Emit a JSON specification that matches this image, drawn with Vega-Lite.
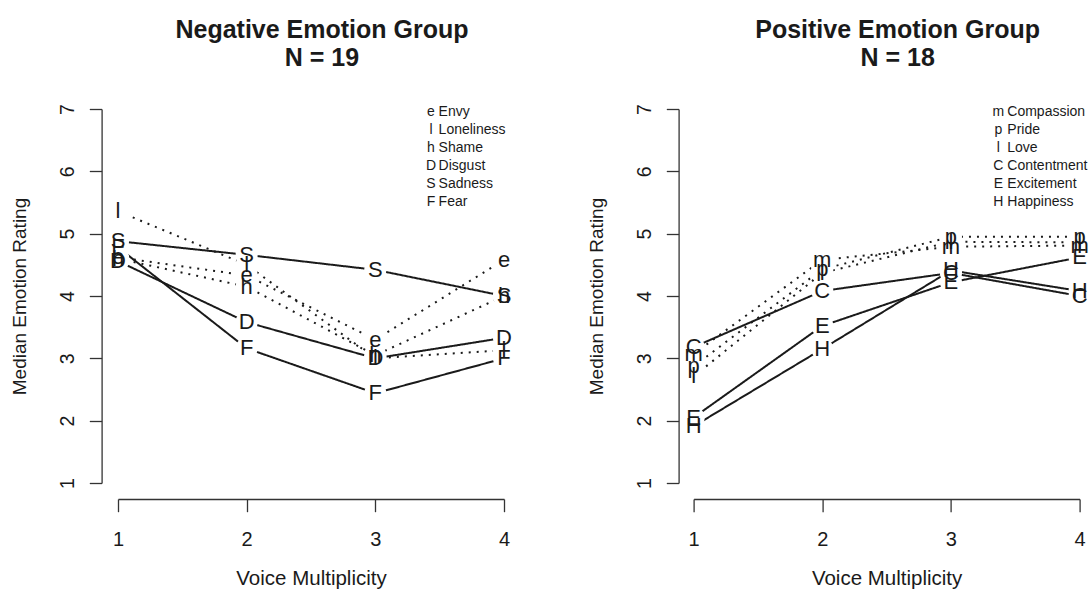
{
  "$schema": "https://vega.github.io/schema/vega-lite/v6.json",
  "background": "white",
  "padding": {"left": 10, "top": 18, "right": 0, "bottom": 0},
  "bounds": "flush",
  "spacing": 189.6,
  "config": {
    "font": "Liberation Sans",
    "view": {"stroke": null},
    "axis": {
      "grid": false,
      "domainColor": "#333333",
      "domainWidth": 1.3,
      "tickColor": "#333333",
      "tickWidth": 1.3,
      "labelColor": "#1a1a1a",
      "labelFlush": false,
      "labelOverlap": false,
      "labelBound": false,
      "titleFontWeight": "normal",
      "titleColor": "#1a1a1a"
    }
  },
  "datasets": {
    "negative": [
      {"emotion": "Envy", "letter": "e", "style": "dotted", "vm": 1, "rating": 4.62},
      {"emotion": "Envy", "letter": "e", "style": "dotted", "vm": 2, "rating": 4.33},
      {"emotion": "Envy", "letter": "e", "style": "dotted", "vm": 3, "rating": 3.30},
      {"emotion": "Envy", "letter": "e", "style": "dotted", "vm": 4, "rating": 4.58},
      {"emotion": "Loneliness", "letter": "l", "style": "dotted", "vm": 1, "rating": 5.36},
      {"emotion": "Loneliness", "letter": "l", "style": "dotted", "vm": 2, "rating": 4.50},
      {"emotion": "Loneliness", "letter": "l", "style": "dotted", "vm": 3, "rating": 3.00},
      {"emotion": "Loneliness", "letter": "l", "style": "dotted", "vm": 4, "rating": 3.13},
      {"emotion": "Shame", "letter": "h", "style": "dotted", "vm": 1, "rating": 4.60},
      {"emotion": "Shame", "letter": "h", "style": "dotted", "vm": 2, "rating": 4.15},
      {"emotion": "Shame", "letter": "h", "style": "dotted", "vm": 3, "rating": 3.05},
      {"emotion": "Shame", "letter": "h", "style": "dotted", "vm": 4, "rating": 4.00},
      {"emotion": "Disgust", "letter": "D", "style": "solid", "vm": 1, "rating": 4.56},
      {"emotion": "Disgust", "letter": "D", "style": "solid", "vm": 2, "rating": 3.58},
      {"emotion": "Disgust", "letter": "D", "style": "solid", "vm": 3, "rating": 3.00},
      {"emotion": "Disgust", "letter": "D", "style": "solid", "vm": 4, "rating": 3.33},
      {"emotion": "Sadness", "letter": "S", "style": "solid", "vm": 1, "rating": 4.88},
      {"emotion": "Sadness", "letter": "S", "style": "solid", "vm": 2, "rating": 4.66},
      {"emotion": "Sadness", "letter": "S", "style": "solid", "vm": 3, "rating": 4.42},
      {"emotion": "Sadness", "letter": "S", "style": "solid", "vm": 4, "rating": 4.00},
      {"emotion": "Fear", "letter": "F", "style": "solid", "vm": 1, "rating": 4.78},
      {"emotion": "Fear", "letter": "F", "style": "solid", "vm": 2, "rating": 3.16},
      {"emotion": "Fear", "letter": "F", "style": "solid", "vm": 3, "rating": 2.44},
      {"emotion": "Fear", "letter": "F", "style": "solid", "vm": 4, "rating": 3.00}
    ],
    "positive": [
      {"emotion": "Compassion", "letter": "m", "style": "dotted", "vm": 1, "rating": 3.07},
      {"emotion": "Compassion", "letter": "m", "style": "dotted", "vm": 2, "rating": 4.58},
      {"emotion": "Compassion", "letter": "m", "style": "dotted", "vm": 3, "rating": 4.79},
      {"emotion": "Compassion", "letter": "m", "style": "dotted", "vm": 4, "rating": 4.81},
      {"emotion": "Pride", "letter": "p", "style": "dotted", "vm": 1, "rating": 2.87},
      {"emotion": "Pride", "letter": "p", "style": "dotted", "vm": 2, "rating": 4.43},
      {"emotion": "Pride", "letter": "p", "style": "dotted", "vm": 3, "rating": 4.95},
      {"emotion": "Pride", "letter": "p", "style": "dotted", "vm": 4, "rating": 4.95},
      {"emotion": "Love", "letter": "l", "style": "dotted", "vm": 1, "rating": 2.71},
      {"emotion": "Love", "letter": "l", "style": "dotted", "vm": 2, "rating": 4.37},
      {"emotion": "Love", "letter": "l", "style": "dotted", "vm": 3, "rating": 4.87},
      {"emotion": "Love", "letter": "l", "style": "dotted", "vm": 4, "rating": 4.86},
      {"emotion": "Contentment", "letter": "C", "style": "solid", "vm": 1, "rating": 3.18},
      {"emotion": "Contentment", "letter": "C", "style": "solid", "vm": 2, "rating": 4.08},
      {"emotion": "Contentment", "letter": "C", "style": "solid", "vm": 3, "rating": 4.37},
      {"emotion": "Contentment", "letter": "C", "style": "solid", "vm": 4, "rating": 4.00},
      {"emotion": "Excitement", "letter": "E", "style": "solid", "vm": 1, "rating": 2.05},
      {"emotion": "Excitement", "letter": "E", "style": "solid", "vm": 2, "rating": 3.52},
      {"emotion": "Excitement", "letter": "E", "style": "solid", "vm": 3, "rating": 4.22},
      {"emotion": "Excitement", "letter": "E", "style": "solid", "vm": 4, "rating": 4.62},
      {"emotion": "Happiness", "letter": "H", "style": "solid", "vm": 1, "rating": 1.91},
      {"emotion": "Happiness", "letter": "H", "style": "solid", "vm": 2, "rating": 3.15},
      {"emotion": "Happiness", "letter": "H", "style": "solid", "vm": 3, "rating": 4.41},
      {"emotion": "Happiness", "letter": "H", "style": "solid", "vm": 4, "rating": 4.08}
    ]
  },
  "hconcat": [
    {
      "width": 386,
      "height": 374,
      "data": {"name": "negative"},
      "title": {"text": ["Negative Emotion Group", "N = 19"], "fontSize": 25, "fontWeight": "bold", "lineHeight": 27.3, "anchor": "middle", "frame": "group", "dx": 11, "offset": 33, "color": "#1a1a1a"},
      "encoding": {
        "x": {"field": "vm", "type": "quantitative", "scale": {"domain": [1, 4], "nice": false, "zero": false},
              "axis": {"values": [1, 2, 3, 4], "format": "d", "title": "Voice Multiplicity", "offset": 16, "tickSize": 12.7, "labelFontSize": 20, "labelPadding": 17.5, "titleFontSize": 20.5, "titlePadding": 19}},
        "y": {"field": "rating", "type": "quantitative", "scale": {"domain": [1, 7], "nice": false, "zero": false},
              "axis": {"values": [1, 2, 3, 4, 5, 6, 7], "format": "d", "title": "Median Emotion Rating", "offset": 16.4, "tickSize": 12.3, "labelAngle": 270, "labelAlign": "center", "labelBaseline": "bottom", "labelFontSize": 19.5, "labelPadding": 12, "titleFontSize": 19, "titlePadding": 28}}
      },
      "layer": [
        {"mark": {"type": "line", "stroke": "#1a1a1a", "strokeWidth": 2, "strokeCap": "butt"},
         "encoding": {"detail": {"field": "emotion"},
                      "strokeDash": {"field": "style", "type": "nominal", "scale": {"domain": ["dotted", "solid"], "range": [[2, 6], [1, 0]]}, "legend": null}}},
        {"mark": {"type": "point", "filled": true, "fill": "white", "opacity": 1, "size": 490},
         "encoding": {"shape": {"field": "letter", "type": "nominal", "scale": {"domain": ["e", "l", "h", "D", "S", "F"], "range": ["circle", "circle", "circle", "circle", "circle", "circle"]},
                                "legend": {"orient": "none", "legendX": 299, "legendY": -4, "title": null, "symbolOpacity": 0, "symbolSize": 1, "labelOffset": 0, "labelAlign": "center", "labelFontSize": 14, "labelColor": "#1a1a1a", "rowPadding": 4}}}},
        {"mark": {"type": "text", "fontSize": 22, "baseline": "middle", "align": "center"},
         "encoding": {"text": {"field": "letter"},
                      "color": {"field": "emotion", "type": "nominal", "scale": {"domain": ["Envy", "Loneliness", "Shame", "Disgust", "Sadness", "Fear"], "range": ["#1a1a1a", "#1a1a1a", "#1a1a1a", "#1a1a1a", "#1a1a1a", "#1a1a1a"]},
                                "legend": {"orient": "none", "legendX": 306.6, "legendY": -4, "title": null, "symbolOpacity": 0, "symbolSize": 1, "labelOffset": 0, "labelFontSize": 14, "labelColor": "#1a1a1a", "rowPadding": 4}}}}
      ]
    },
    {
      "width": 386,
      "height": 374,
      "data": {"name": "positive"},
      "title": {"text": ["Positive Emotion Group", "N = 18"], "fontSize": 25, "fontWeight": "bold", "lineHeight": 27.3, "anchor": "middle", "frame": "group", "dx": 11, "offset": 33, "color": "#1a1a1a"},
      "encoding": {
        "x": {"field": "vm", "type": "quantitative", "scale": {"domain": [1, 4], "nice": false, "zero": false},
              "axis": {"values": [1, 2, 3, 4], "format": "d", "title": "Voice Multiplicity", "offset": 16, "tickSize": 12.7, "labelFontSize": 20, "labelPadding": 17.5, "titleFontSize": 20.5, "titlePadding": 19}},
        "y": {"field": "rating", "type": "quantitative", "scale": {"domain": [1, 7], "nice": false, "zero": false},
              "axis": {"values": [1, 2, 3, 4, 5, 6, 7], "format": "d", "title": "Median Emotion Rating", "offset": 15, "tickSize": 12.3, "labelAngle": 270, "labelAlign": "center", "labelBaseline": "bottom", "labelFontSize": 19.5, "labelPadding": 12, "titleFontSize": 19, "titlePadding": 28}}
      },
      "layer": [
        {"mark": {"type": "line", "stroke": "#1a1a1a", "strokeWidth": 2, "strokeCap": "butt"},
         "encoding": {"detail": {"field": "emotion"},
                      "strokeDash": {"field": "style", "type": "nominal", "scale": {"domain": ["dotted", "solid"], "range": [[2, 6], [1, 0]]}, "legend": null}}},
        {"mark": {"type": "point", "filled": true, "fill": "white", "opacity": 1, "size": 490},
         "encoding": {"shape": {"field": "letter", "type": "nominal", "scale": {"domain": ["m", "p", "l", "C", "E", "H"], "range": ["circle", "circle", "circle", "circle", "circle", "circle"]},
                                "legend": {"orient": "none", "legendX": 290.7, "legendY": -4, "title": null, "symbolOpacity": 0, "symbolSize": 1, "labelOffset": 0, "labelAlign": "center", "labelFontSize": 14, "labelColor": "#1a1a1a", "rowPadding": 4}}}},
        {"mark": {"type": "text", "fontSize": 22, "baseline": "middle", "align": "center"},
         "encoding": {"text": {"field": "letter"},
                      "color": {"field": "emotion", "type": "nominal", "scale": {"domain": ["Compassion", "Pride", "Love", "Contentment", "Excitement", "Happiness"], "range": ["#1a1a1a", "#1a1a1a", "#1a1a1a", "#1a1a1a", "#1a1a1a", "#1a1a1a"]},
                                "legend": {"orient": "none", "legendX": 299.7, "legendY": -4, "title": null, "symbolOpacity": 0, "symbolSize": 1, "labelOffset": 0, "labelFontSize": 14, "labelColor": "#1a1a1a", "rowPadding": 4}}}}
      ]
    }
  ],
  "resolve": {
    "scale": {"x": "independent", "y": "independent", "color": "independent", "shape": "independent", "strokeDash": "independent"},
    "legend": {"color": "independent", "shape": "independent", "strokeDash": "independent"}
  }
}
